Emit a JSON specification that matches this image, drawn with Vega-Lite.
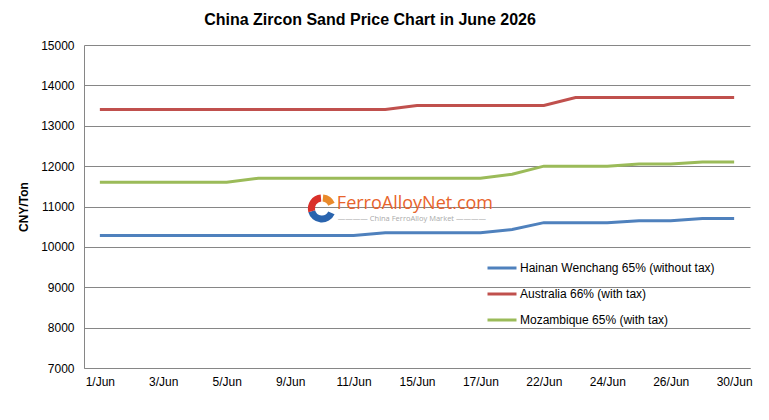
{
  "$schema": "https://vega.github.io/schema/vega-lite/v6.json",
  "width": 666,
  "height": 323,
  "autosize": "none",
  "padding": {"left": 84, "top": 45, "right": 19, "bottom": 52},
  "background": "white",
  "title": {
    "text": "China Zircon Sand Price Chart in June 2026",
    "font": "Liberation Sans",
    "fontSize": 16,
    "fontWeight": "bold",
    "color": "#000000",
    "anchor": "middle",
    "frame": "group",
    "dx": -47,
    "dy": 22,
    "baseline": "bottom",
    "offset": 17
  },
  "config": {
    "view": {"stroke": null},
    "font": "Liberation Sans",
    "axis": {
      "labelFont": "Liberation Sans",
      "labelFontSize": 12,
      "labelColor": "#000000",
      "domainColor": "#868686",
      "gridColor": "#868686",
      "gridWidth": 1,
      "ticks": false
    }
  },
  "resolve": {"scale": {"color": "independent"}, "legend": {"color": "independent"}},
  "datasets": {
    "prices": [
      {"date": "1/Jun", "series": "Hainan Wenchang 65% (without tax)", "price": 10280},
      {"date": "2/Jun", "series": "Hainan Wenchang 65% (without tax)", "price": 10280},
      {"date": "3/Jun", "series": "Hainan Wenchang 65% (without tax)", "price": 10280},
      {"date": "4/Jun", "series": "Hainan Wenchang 65% (without tax)", "price": 10280},
      {"date": "5/Jun", "series": "Hainan Wenchang 65% (without tax)", "price": 10280},
      {"date": "8/Jun", "series": "Hainan Wenchang 65% (without tax)", "price": 10280},
      {"date": "9/Jun", "series": "Hainan Wenchang 65% (without tax)", "price": 10280},
      {"date": "10/Jun", "series": "Hainan Wenchang 65% (without tax)", "price": 10280},
      {"date": "11/Jun", "series": "Hainan Wenchang 65% (without tax)", "price": 10280},
      {"date": "12/Jun", "series": "Hainan Wenchang 65% (without tax)", "price": 10350},
      {"date": "15/Jun", "series": "Hainan Wenchang 65% (without tax)", "price": 10350},
      {"date": "16/Jun", "series": "Hainan Wenchang 65% (without tax)", "price": 10350},
      {"date": "17/Jun", "series": "Hainan Wenchang 65% (without tax)", "price": 10350},
      {"date": "18/Jun", "series": "Hainan Wenchang 65% (without tax)", "price": 10430},
      {"date": "22/Jun", "series": "Hainan Wenchang 65% (without tax)", "price": 10600},
      {"date": "23/Jun", "series": "Hainan Wenchang 65% (without tax)", "price": 10600},
      {"date": "24/Jun", "series": "Hainan Wenchang 65% (without tax)", "price": 10600},
      {"date": "25/Jun", "series": "Hainan Wenchang 65% (without tax)", "price": 10650},
      {"date": "26/Jun", "series": "Hainan Wenchang 65% (without tax)", "price": 10650},
      {"date": "29/Jun", "series": "Hainan Wenchang 65% (without tax)", "price": 10700},
      {"date": "30/Jun", "series": "Hainan Wenchang 65% (without tax)", "price": 10700},
      {"date": "1/Jun", "series": "Australia 66% (with tax)", "price": 13400},
      {"date": "2/Jun", "series": "Australia 66% (with tax)", "price": 13400},
      {"date": "3/Jun", "series": "Australia 66% (with tax)", "price": 13400},
      {"date": "4/Jun", "series": "Australia 66% (with tax)", "price": 13400},
      {"date": "5/Jun", "series": "Australia 66% (with tax)", "price": 13400},
      {"date": "8/Jun", "series": "Australia 66% (with tax)", "price": 13400},
      {"date": "9/Jun", "series": "Australia 66% (with tax)", "price": 13400},
      {"date": "10/Jun", "series": "Australia 66% (with tax)", "price": 13400},
      {"date": "11/Jun", "series": "Australia 66% (with tax)", "price": 13400},
      {"date": "12/Jun", "series": "Australia 66% (with tax)", "price": 13400},
      {"date": "15/Jun", "series": "Australia 66% (with tax)", "price": 13500},
      {"date": "16/Jun", "series": "Australia 66% (with tax)", "price": 13500},
      {"date": "17/Jun", "series": "Australia 66% (with tax)", "price": 13500},
      {"date": "18/Jun", "series": "Australia 66% (with tax)", "price": 13500},
      {"date": "22/Jun", "series": "Australia 66% (with tax)", "price": 13500},
      {"date": "23/Jun", "series": "Australia 66% (with tax)", "price": 13700},
      {"date": "24/Jun", "series": "Australia 66% (with tax)", "price": 13700},
      {"date": "25/Jun", "series": "Australia 66% (with tax)", "price": 13700},
      {"date": "26/Jun", "series": "Australia 66% (with tax)", "price": 13700},
      {"date": "29/Jun", "series": "Australia 66% (with tax)", "price": 13700},
      {"date": "30/Jun", "series": "Australia 66% (with tax)", "price": 13700},
      {"date": "1/Jun", "series": "Mozambique 65% (with tax)", "price": 11600},
      {"date": "2/Jun", "series": "Mozambique 65% (with tax)", "price": 11600},
      {"date": "3/Jun", "series": "Mozambique 65% (with tax)", "price": 11600},
      {"date": "4/Jun", "series": "Mozambique 65% (with tax)", "price": 11600},
      {"date": "5/Jun", "series": "Mozambique 65% (with tax)", "price": 11600},
      {"date": "8/Jun", "series": "Mozambique 65% (with tax)", "price": 11700},
      {"date": "9/Jun", "series": "Mozambique 65% (with tax)", "price": 11700},
      {"date": "10/Jun", "series": "Mozambique 65% (with tax)", "price": 11700},
      {"date": "11/Jun", "series": "Mozambique 65% (with tax)", "price": 11700},
      {"date": "12/Jun", "series": "Mozambique 65% (with tax)", "price": 11700},
      {"date": "15/Jun", "series": "Mozambique 65% (with tax)", "price": 11700},
      {"date": "16/Jun", "series": "Mozambique 65% (with tax)", "price": 11700},
      {"date": "17/Jun", "series": "Mozambique 65% (with tax)", "price": 11700},
      {"date": "18/Jun", "series": "Mozambique 65% (with tax)", "price": 11800},
      {"date": "22/Jun", "series": "Mozambique 65% (with tax)", "price": 12000},
      {"date": "23/Jun", "series": "Mozambique 65% (with tax)", "price": 12000},
      {"date": "24/Jun", "series": "Mozambique 65% (with tax)", "price": 12000},
      {"date": "25/Jun", "series": "Mozambique 65% (with tax)", "price": 12050},
      {"date": "26/Jun", "series": "Mozambique 65% (with tax)", "price": 12050},
      {"date": "29/Jun", "series": "Mozambique 65% (with tax)", "price": 12100},
      {"date": "30/Jun", "series": "Mozambique 65% (with tax)", "price": 12100}
    ],
    "logo": [
      {"part": "orange", "start": 0.1, "end": 1.15},
      {"part": "blue", "start": 2.0, "end": 4.45},
      {"part": "red", "start": 4.45, "end": 6.2}
    ]
  },
  "layer": [
    {
      "data": {"name": "prices"},
      "mark": {"type": "line", "strokeWidth": 3, "interpolate": "linear"},
      "encoding": {
        "x": {
          "field": "date",
          "type": "ordinal",
          "sort": ["1/Jun","2/Jun","3/Jun","4/Jun","5/Jun","8/Jun","9/Jun","10/Jun","11/Jun","12/Jun","15/Jun","16/Jun","17/Jun","18/Jun","22/Jun","23/Jun","24/Jun","25/Jun","26/Jun","29/Jun","30/Jun"],
          "scale": {"type": "point", "padding": 0.5},
          "axis": {
            "title": null,
            "values": ["1/Jun","3/Jun","5/Jun","9/Jun","11/Jun","15/Jun","17/Jun","22/Jun","24/Jun","26/Jun","30/Jun"],
            "labelAngle": 0,
            "labelPadding": 8,
            "grid": false,
            "domainColor": "#868686"
          }
        },
        "y": {
          "field": "price",
          "type": "quantitative",
          "scale": {"domain": [7000, 15000], "nice": false, "zero": false},
          "axis": {
            "title": "CNY/Ton",
            "titleFont": "Liberation Sans",
            "titleFontSize": 12,
            "titleFontWeight": "bold",
            "titleColor": "#000000",
            "titlePadding": 10,
            "values": [7000, 8000, 9000, 10000, 11000, 12000, 13000, 14000, 15000],
            "format": "d",
            "labelPadding": 10,
            "grid": true
          }
        },
        "color": {
          "field": "series",
          "type": "nominal",
          "scale": {
            "domain": ["Hainan Wenchang 65% (without tax)", "Australia 66% (with tax)", "Mozambique 65% (with tax)"],
            "range": ["#4F81BD", "#C0504D", "#9BBB59"]
          },
          "legend": {
            "title": null,
            "orient": "none",
            "legendX": 402,
            "legendY": 207,
            "symbolType": "stroke",
            "symbolSize": 841,
            "symbolStrokeWidth": 3,
            "labelFont": "Liberation Sans",
            "labelFontSize": 12,
            "labelColor": "#000000",
            "labelOffset": 2,
            "rowPadding": 4,
            "labelLimit": 400
          }
        }
      }
    },
    {
      "data": {"values": [{"label": "FerroAlloyNet.com"}]},
      "mark": {"type": "text", "font": "Open Sans", "fontSize": 18, "color": "#E8642C", "align": "left", "baseline": "middle", "dx": 15, "dy": -3},
      "encoding": {
        "x": {"datum": "10/Jun"},
        "y": {"datum": 11000},
        "text": {"field": "label"}
      }
    },
    {
      "data": {"values": [{"label": "———— China FerroAlloy Market ————"}]},
      "mark": {"type": "text", "font": "Open Sans", "fontSize": 7.5, "color": "#AAAAAA", "align": "left", "baseline": "middle", "dx": 16, "dy": 12},
      "encoding": {
        "x": {"datum": "10/Jun"},
        "y": {"datum": 11000},
        "text": {"field": "label"}
      }
    },
    {
      "data": {"name": "logo"},
      "mark": {"type": "arc", "radius": 14, "radius2": 7},
      "encoding": {
        "x": {"datum": "10/Jun"},
        "y": {"datum": 10950},
        "theta": {"field": "start", "type": "quantitative", "scale": null},
        "theta2": {"field": "end"},
        "color": {"field": "part", "type": "nominal", "scale": {"domain": ["orange", "blue", "red"], "range": ["#E98A2B", "#2A64AE", "#D9302A"]}, "legend": null}
      }
    }
  ]
}
